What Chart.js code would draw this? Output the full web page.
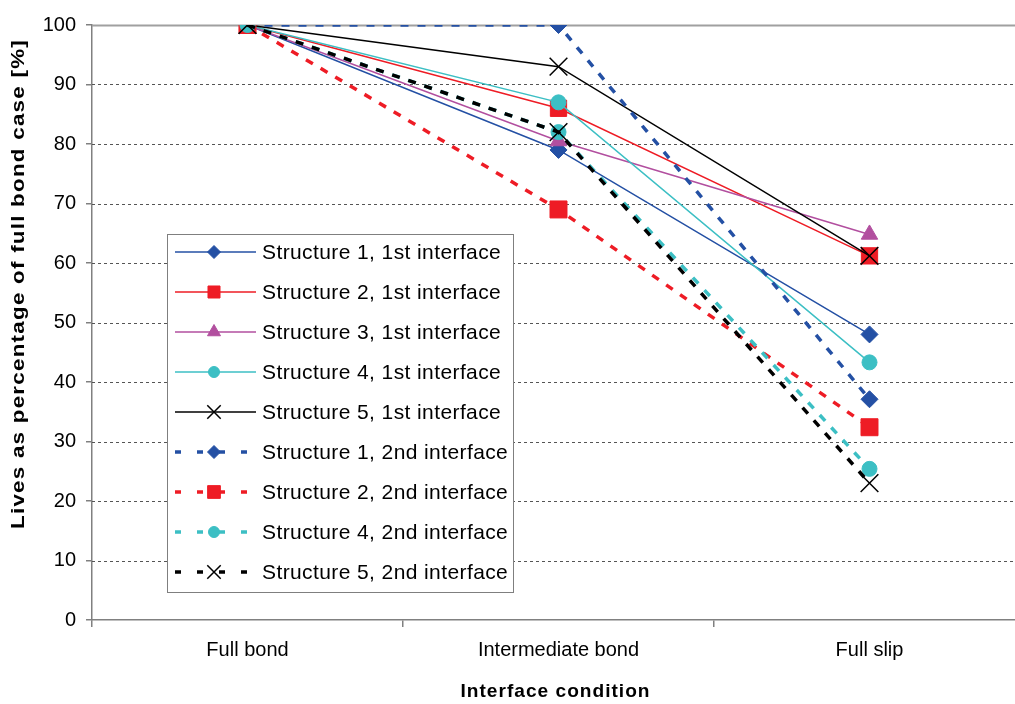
<!DOCTYPE html>
<html><head><meta charset="utf-8">
<script src="https://cdn.jsdelivr.net/npm/chart.js@4.4.1/dist/chart.umd.min.js"></script>
<style>
html,body{margin:0;padding:0;overflow:hidden;background:#fff;width:1015px;height:704px}
#wrap{position:absolute;left:0;top:0;width:1040px;height:704px}
</style>
</head><body><div id="wrap"><canvas id="c" width="1040" height="704"></canvas></div>
<script>
// ---- data ----
const categories = ['Full bond', 'Intermediate bond', 'Full slip'];
const yTickValues = [0, 10, 20, 30, 40, 50, 60, 70, 80, 90, 100];
const seriesNames = [
  'Structure 1, 1st interface', 'Structure 2, 1st interface', 'Structure 3, 1st interface',
  'Structure 4, 1st interface', 'Structure 5, 1st interface', 'Structure 1, 2nd interface',
  'Structure 2, 2nd interface', 'Structure 4, 2nd interface', 'Structure 5, 2nd interface'
];
const s1First  = [100, 79, 48];
const s2First  = [100, 86, 61.2];
const s3First  = [100, 80.5, 64.8];
const s4First  = [100, 87, 43.3];
const s5First  = [100, 93, 61.2];
const s1Second = [100, 100, 37.1];
const s2Second = [100, 69, 32.4];
const s4Second = [100, 82, 25.4];
const s5Second = [100, 82, 23];
const xTitle = 'Interface condition';
const yTitle = 'Lives as percentage of full bond case [%]';

// ---- styles ----
const FONT = "'Liberation Sans', Arial, sans-serif";
const BLUE = '#2450a4', RED = '#ee1c25', PURPLE = '#b24f9f', CYAN = '#3cbfc4', BLACK = '#000000';
const styles = [
  {c: BLUE,   p: 'rectRot',  r: 8.5,  lr: 6.5, dash: false},
  {c: RED,    p: 'rect',     r: 11.5, lr: 8.5, dash: false},
  {c: PURPLE, p: 'triangle', r: 9.5,  lr: 7.5, dash: false},
  {c: CYAN,   p: 'circle',   r: 7.5,  lr: 5.5, dash: false},
  {c: BLACK,  p: 'crossRot', r: 12.5, lr: 9.5, dash: false},
  {c: BLUE,   p: 'rectRot',  r: 8.5,  lr: 6.5, dash: true},
  {c: RED,    p: 'rect',     r: 12,   lr: 9,   dash: true},
  {c: CYAN,   p: 'circle',   r: 7.5,  lr: 5.5, dash: true},
  {c: BLACK,  p: 'crossRot', r: 12.5, lr: 9.5, dash: true}
];
const seriesData = [s1First, s2First, s3First, s4First, s5First, s1Second, s2Second, s4Second, s5Second];

const datasets = seriesData.map((d, i) => {
  const s = styles[i];
  const cross = s.p === 'crossRot';
  return {
    label: seriesNames[i],
    data: d,
    borderColor: s.c,
    backgroundColor: s.c,
    borderWidth: s.dash ? 3.5 : 1.5,
    borderDash: s.dash ? [8, 9] : [],
    pointStyle: s.p,
    pointRadius: s.r,
    pointHoverRadius: s.r,
    pointBorderWidth: cross ? 1.5 : 1,
    pointBorderColor: s.c,
    pointBackgroundColor: s.c,
    tension: 0,
    fill: false,
    order: seriesData.length - i
  };
});

const gridPlugin = {
  id: 'customGrid',
  beforeDatasetsDraw(chart) {
    const {ctx, chartArea: a, scales: {y}} = chart;
    ctx.save();
    yTickValues.forEach(v => {
      if (v === 0) return;
      const py = Math.round(y.getPixelForValue(v)) + 0.5;
      ctx.beginPath();
      if (v === 100) { ctx.setLineDash([]); ctx.strokeStyle = '#a0a0a0'; ctx.lineWidth = 2; }
      else { ctx.setLineDash([3, 3]); ctx.strokeStyle = '#555555'; ctx.lineWidth = 1; }
      ctx.moveTo(a.left, py); ctx.lineTo(a.right, py); ctx.stroke();
    });
    ctx.restore();
  }
};

function fitText(ctx, text, x, y, font, targetW, rotate, spacing) {
  ctx.save();
  ctx.font = font;
  ctx.letterSpacing = spacing || '0px';
  const w = ctx.measureText(text).width;
  ctx.translate(x, y);
  if (rotate) ctx.rotate(-Math.PI / 2);
  ctx.scale(targetW / w, 1);
  ctx.textAlign = 'center';
  ctx.textBaseline = 'middle';
  ctx.fillStyle = '#000';
  ctx.fillText(text, 0, 0);
  ctx.restore();
}

const extrasPlugin = {
  id: 'extras',
  afterDraw(chart) {
    const {ctx, chartArea: a} = chart;
    // axis titles
    fitText(ctx, yTitle, 19, 284, "bold 18px 'Liberation Sans', Arial, sans-serif", 490, true, '1px');
    fitText(ctx, xTitle, (a.left + a.right) / 2 - 3, 692, "bold 19px 'Liberation Sans', Arial, sans-serif", 190, false, '1px');
    // legend
    const bx = 167.5, by = 234.5, bw = 346, bh = 358;
    ctx.save();
    ctx.fillStyle = '#fff';
    ctx.fillRect(bx, by, bw, bh);
    ctx.strokeStyle = '#7f7f7f';
    ctx.lineWidth = 1;
    ctx.strokeRect(bx, by, bw, bh);
    ctx.font = '21px ' + FONT;
    ctx.textBaseline = 'middle';
    ctx.textAlign = 'left';
    chart.data.datasets.forEach((ds, i) => {
      const s = styles[i];
      const cy = 252 + i * 40;
      ctx.save();
      ctx.strokeStyle = s.c;
      if (s.dash) {
        ctx.lineWidth = 3.5;
        ctx.setLineDash([6, 16]);
        ctx.beginPath(); ctx.moveTo(175, cy); ctx.lineTo(256, cy); ctx.stroke();
      } else {
        ctx.lineWidth = 1.5;
        ctx.beginPath(); ctx.moveTo(175, cy); ctx.lineTo(256, cy); ctx.stroke();
      }
      ctx.setLineDash([]);
      ctx.fillStyle = s.c;
      ctx.strokeStyle = s.c;
      ctx.lineWidth = s.p === 'crossRot' ? 1.5 : 1;
      Chart.helpers.drawPoint(ctx, {pointStyle: s.p, rotation: 0, radius: s.lr, borderWidth: ctx.lineWidth}, 214, cy);
      ctx.restore();
      ctx.save();
      ctx.fillStyle = '#000';
      ctx.letterSpacing = '0.4px';
      ctx.fillText(ds.label, 262, cy + 1);
      ctx.restore();
    });
    ctx.restore();
  }
};

new Chart(document.getElementById('c'), {
  type: 'line',
  data: {labels: categories, datasets},
  options: {
    responsive: false,
    animation: false,
    events: [],
    layout: {padding: {left: 0, top: 25, right: 15, bottom: 0}},
    plugins: {legend: {display: false}, tooltip: {enabled: false}, title: {display: false}},
    scales: {
      x: {
        type: 'category',
        offset: true,
        grid: {offset: true, drawOnChartArea: false, drawTicks: true, tickLength: 7, color: '#808080', lineWidth: 1.5},
        border: {display: true, color: '#808080', width: 1.5},
        ticks: {color: '#000', font: {family: FONT, size: 20}, padding: 11, maxRotation: 0, autoSkip: false},
        afterFit(scale) { scale.height = 84; }
      },
      y: {
        min: 0, max: 100,
        afterBuildTicks(scale) { scale.ticks = yTickValues.map(v => ({value: v})); },
        grid: {drawOnChartArea: false, drawTicks: true, tickLength: 6, color: '#808080', lineWidth: 1.5},
        border: {display: true, color: '#808080', width: 1.5},
        ticks: {color: '#000', font: {family: FONT, size: 20}, padding: 10},
        afterFit(scale) { scale.width = 92; }
      }
    }
  },
  plugins: [gridPlugin, extrasPlugin]
});
</script>
</body></html>
